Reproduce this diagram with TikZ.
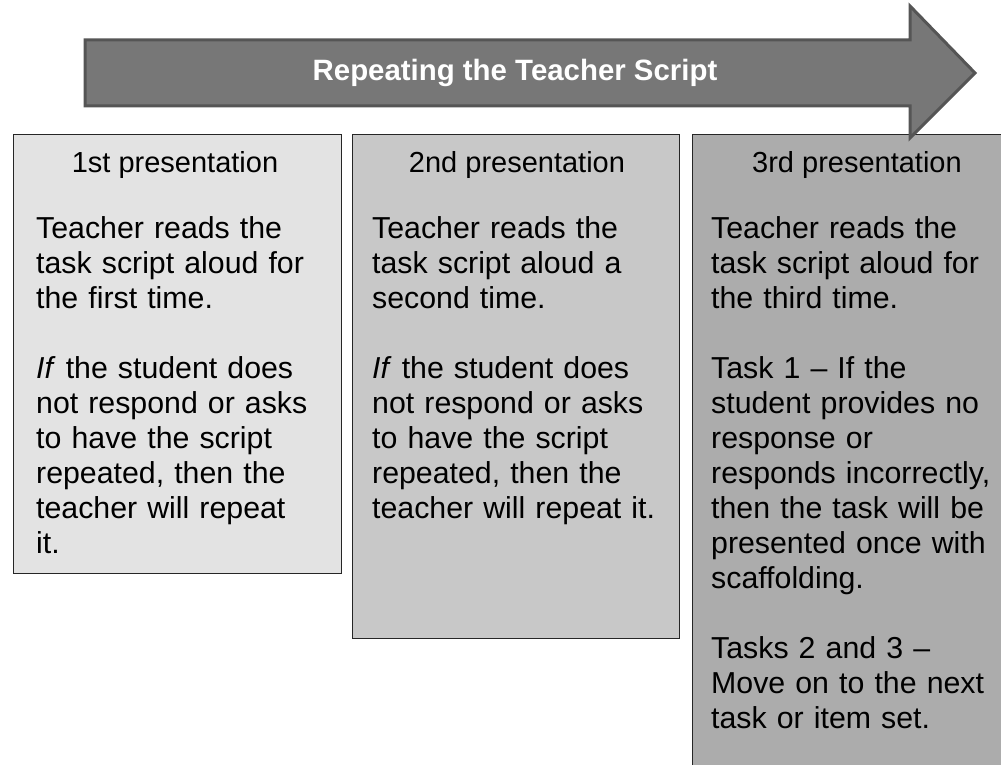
\documentclass[tikz,border=0pt]{standalone}
\usepackage{fontspec}
\setmainfont{Liberation Sans}
\definecolor{boxA}{HTML}{E3E3E3}
\definecolor{boxB}{HTML}{C8C8C8}
\definecolor{boxC}{HTML}{ACACAC}
\definecolor{arrowfill}{HTML}{777777}
\definecolor{arrowline}{HTML}{555555}
\begin{document}
\begin{tikzpicture}[x=1pt,y=-1pt,
  panel/.style={draw=black!85, line width=1.2pt, inner sep=0pt, anchor=north west},
  heading/.style={anchor=base, inner sep=0pt, font=\fontsize{29}{34}\selectfont},
  bodytext/.style={anchor=base west, inner sep=0pt, text width=300pt, align=left,
                   font=\fontsize{30.3}{35}\selectfont}]
\useasboundingbox (0,0) rectangle (1001,765);
\clip (0,0) rectangle (1001,765);
\fill[white] (0,0) rectangle (1001,765);
% panels
\node[panel, fill=boxA, minimum width=328pt, minimum height=439pt] (b1) at (13,134) {};
\node[panel, fill=boxB, minimum width=327pt, minimum height=504pt] (b2) at (352,134) {};
\node[panel, fill=boxC, minimum width=328pt, minimum height=700pt] (b3) at (692,134) {};
% headings
\node[heading] (h1) at (175,172) {1st presentation};
\node[heading] (h2) at (517,172) {2nd presentation};
\node[heading] (h3) at (857,172) {3rd presentation};
% body texts
\node[bodytext] (t1) at (36,238) {Teacher reads the\\task script aloud for\\the first time.\\[35pt]
\textit{If} the student does\\not respond or asks\\to have the script\\repeated, then the\\teacher will repeat\\it.};
\node[bodytext] (t2) at (372,238) {Teacher reads the\\task script aloud a\\second time.\\[35pt]
\textit{If} the student does\\not respond or asks\\to have the script\\repeated, then the\\teacher will repeat it.};
\node[bodytext] (t3) at (711,238) {Teacher reads the\\task script aloud for\\the third time.\\[35pt]
Task 1 – If the\\student provides no\\response or\\responds incorrectly,\\then the task will be\\presented once with\\scaffolding.\\[35pt]
Tasks 2 and 3 –\\Move on to the next\\task or item set.};
% big arrow
\draw[fill=arrowfill, draw=arrowline, line width=3pt, line join=miter]
  (85,40) -- (910,40) -- (910,6) -- (975,73) -- (910,138) -- (910,106) -- (85,106) -- cycle;
\node[anchor=center, inner sep=0pt, text=white, font=\fontsize{29.4}{34}\selectfont\bfseries]
  (title) at (515,73) {Repeating the Teacher Script};
\end{tikzpicture}
\end{document}
